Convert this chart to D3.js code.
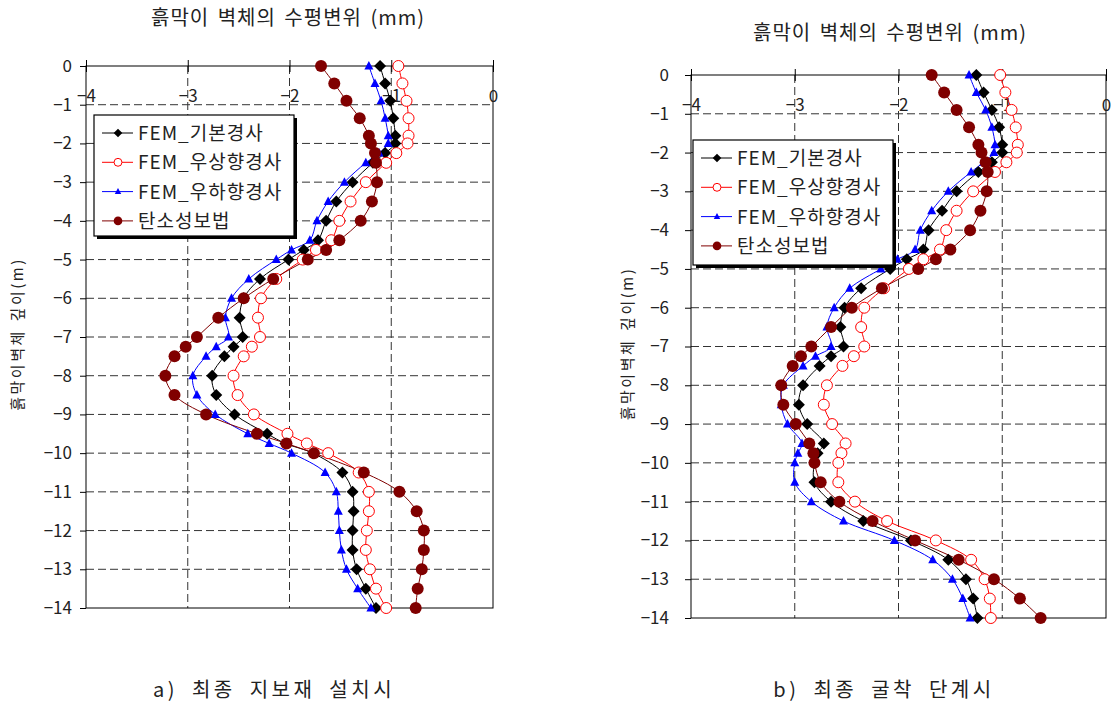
<!DOCTYPE html>
<html>
<head>
<meta charset="utf-8">
<script src="https://cdn.jsdelivr.net/npm/d3@7"></script>
<style>
  body { margin: 0; background: #fff; }
  svg text { font-family: "Noto Sans CJK KR", "DejaVu Sans", sans-serif; fill: #222; }
</style>
</head>
<body>
<div id="chart"></div>
<script>
/***** Data *****/
var depths = [0, -0.45, -0.9, -1.35, -1.8, -2, -2.25, -2.5, -3, -3.5, -4, -4.5, -4.75, -5, -5.5, -6, -6.5, -7,
  -7.25, -7.5, -8, -8.5, -9, -9.5, -9.75, -10, -10.5, -11, -11.5, -12, -12.5, -13, -13.5, -14];

var xTicks = [-4, -3, -2, -1, 0];
var yTicks = [0, -1, -2, -3, -4, -5, -6, -7, -8, -9, -10, -11, -12, -13, -14];

var seriesNames = ["FEM_기본경사", "FEM_우상향경사", "FEM_우하향경사", "탄소성보법"];

// a) 최종 지보재 설치시
var aBase = [-1.11, -1.06, -1.01, -0.98, -0.96, -0.96, -1.06, -1.18, -1.38, -1.54, -1.64, -1.72, -1.86, -2.01,
  -2.29, -2.45, -2.49, -2.46, -2.55, -2.64, -2.76, -2.72, -2.54, -2.22, -2.04, -1.77, -1.48, -1.38, -1.37,
  -1.38, -1.38, -1.34, -1.25, -1.15];
var aUp = [-0.93, -0.89, -0.85, -0.83, -0.83, -0.84, -0.95, -1.05, -1.25, -1.40, -1.51, -1.59, -1.74, -1.87,
  -2.13, -2.28, -2.31, -2.29, -2.37, -2.45, -2.55, -2.51, -2.35, -2.02, -1.83, -1.62, -1.32, -1.22, -1.22,
  -1.24, -1.25, -1.21, -1.15, -1.05];
var aDown = [-1.22, -1.16, -1.10, -1.06, -1.03, -1.03, -1.12, -1.25, -1.46, -1.62, -1.73, -1.80, -1.98, -2.13,
  -2.40, -2.57, -2.63, -2.60, -2.72, -2.82, -2.95, -2.91, -2.73, -2.41, -2.20, -1.98, -1.65, -1.54, -1.52,
  -1.51, -1.49, -1.44, -1.33, -1.20];
var aEp = [-1.69, -1.56, -1.44, -1.31, -1.22, -1.20, -1.16, -1.15, -1.14, -1.19, -1.30, -1.51, -1.64, -1.82,
  -2.16, -2.45, -2.70, -2.91, -3.02, -3.13, -3.22, -3.13, -2.82, -2.32, -2.03, -1.76, -1.27, -0.92, -0.75,
  -0.68, -0.68, -0.70, -0.74, -0.76];

// b) 최종 굴착 단계시
var bBase = [-1.25, -1.18, -1.10, -1.03, -1.00, -1.00, -1.10, -1.23, -1.44, -1.58, -1.71, -1.76, -1.92, -2.08,
  -2.36, -2.52, -2.56, -2.53, -2.65, -2.76, -2.92, -2.96, -2.88, -2.72, -2.78, -2.81, -2.81, -2.65, -2.34,
  -1.88, -1.52, -1.35, -1.28, -1.24];
var bUp = [-1.02, -0.97, -0.91, -0.87, -0.85, -0.86, -0.96, -1.07, -1.28, -1.44, -1.54, -1.60, -1.76, -1.90,
  -2.14, -2.33, -2.36, -2.33, -2.43, -2.54, -2.69, -2.72, -2.64, -2.51, -2.55, -2.58, -2.58, -2.42, -2.11,
  -1.64, -1.30, -1.17, -1.12, -1.11];
var bDown = [-1.32, -1.25, -1.16, -1.10, -1.07, -1.08, -1.18, -1.30, -1.52, -1.68, -1.79, -1.84, -2.01, -2.17,
  -2.47, -2.62, -2.69, -2.65, -2.80, -2.92, -3.11, -3.13, -3.07, -2.93, -2.97, -3.00, -3.00, -2.84, -2.53,
  -2.04, -1.67, -1.48, -1.38, -1.31];
var bEp = [-1.68, -1.56, -1.44, -1.32, -1.23, -1.20, -1.16, -1.14, -1.15, -1.21, -1.31, -1.50, -1.64, -1.81,
  -2.16, -2.45, -2.65, -2.84, -2.94, -3.02, -3.13, -3.11, -2.99, -2.86, -2.82, -2.81, -2.75, -2.57, -2.25,
  -1.84, -1.42, -1.08, -0.83, -0.63];

/***** Configuration *****/
var styles = [
  {color: "#000000", marker: "diamond"},
  {color: "#ff0000", marker: "open"},
  {color: "#0000ff", marker: "triangle"},
  {color: "#800000", marker: "dot"}
];

var svg = d3.select("#chart").append("svg")
  .attr("width", 1111)
  .attr("height", 702);

// k scales the marker (1 in the plot, smaller in the legend)
function drawMarker(g, type, color, k) {
  if (type === "diamond") {
    g.append("path").attr("d", "M0,-6L6,0L0,6L-6,0Z").attr("fill", color).attr("transform", "scale(" + k + ")");
  } else if (type === "open") {
    g.append("circle").attr("r", 5.5 * k).attr("fill", "#fff").attr("stroke", color).attr("stroke-width", 1);
  } else if (type === "triangle") {
    g.append("path").attr("d", "M0,-5L4.5,3.5L-4.5,3.5Z").attr("fill", color).attr("transform", "scale(" + k + ")");
  } else {
    g.append("circle").attr("r", 6 * k).attr("fill", color);
  }
}

function minusFmt(d) { return d === 0 ? "0" : "\u2212" + Math.abs(d); }

function drawPanel(cfg) {
  var x = d3.scaleLinear().domain([-4, 0]).range([cfg.left, cfg.left + cfg.width]);
  var y = d3.scaleLinear().domain([0, -14]).range([cfg.top, cfg.top + cfg.height]);
  var g = svg.append("g");

  // grid
  g.append("g").selectAll("line").data(yTicks.slice(1, -1)).join("line")
    .attr("x1", x(-4)).attr("x2", x(0))
    .attr("y1", function(d) { return y(d); }).attr("y2", function(d) { return y(d); })
    .attr("stroke", "#333").attr("stroke-dasharray", "8,4");
  g.append("g").selectAll("line").data(xTicks.slice(1, -1)).join("line")
    .attr("y1", y(0)).attr("y2", y(-14))
    .attr("x1", function(d) { return x(d); }).attr("x2", function(d) { return x(d); })
    .attr("stroke", "#333").attr("stroke-dasharray", "8,4");

  // frame
  g.append("rect")
    .attr("x", x(-4)).attr("y", y(0))
    .attr("width", cfg.width).attr("height", cfg.height)
    .attr("fill", "none").attr("stroke", "#000").attr("stroke-width", 1);

  // y axis
  var yAxis = d3.axisLeft(y).tickValues(yTicks).tickSize(6).tickPadding(cfg.yPad).tickFormat(minusFmt);
  g.append("g")
    .attr("transform", "translate(" + x(-4) + ",0)")
    .call(yAxis)
    .call(function(a) {
      a.select(".domain").remove();
      a.selectAll("text").attr("font-size", 17).attr("fill", "#222");
    });

  // x axis: ticks cross the top line, labels sit below it
  var xAxis = d3.axisBottom(x).tickValues(xTicks).tickSize(6).tickPadding(18).tickFormat(minusFmt);
  g.append("g")
    .attr("transform", "translate(0," + y(0) + ")")
    .call(xAxis)
    .call(function(a) {
      a.select(".domain").remove();
      a.selectAll("text").attr("font-size", 17).attr("fill", "#222");
      a.selectAll(".tick line").attr("y1", -6);
    });

  // series
  var line = d3.line()
    .x(function(d) { return x(d[0]); })
    .y(function(d) { return y(d[1]); })
    .curve(d3.curveCatmullRom.alpha(0.5));

  cfg.series.forEach(function(vals, i) {
    var pts = vals.map(function(v, j) { return [v, depths[j]]; });
    g.append("path").datum(pts)
      .attr("d", line)
      .attr("fill", "none")
      .attr("stroke", styles[i].color)
      .attr("stroke-width", 1);
  });
  cfg.series.forEach(function(vals, i) {
    vals.forEach(function(v, j) {
      var m = g.append("g").attr("transform", "translate(" + x(v) + "," + y(depths[j]) + ")");
      drawMarker(m, styles[i].marker, styles[i].color, 1);
    });
  });

  // legend
  var lg = g.append("g").attr("transform", "translate(" + cfg.legend[0] + "," + cfg.legend[1] + ")");
  lg.append("rect").attr("x", 3).attr("y", 3).attr("width", cfg.legend[2]).attr("height", cfg.legend[3]).attr("fill", "#000");
  lg.append("rect").attr("width", cfg.legend[2]).attr("height", cfg.legend[3])
    .attr("fill", "#fff").attr("stroke", "#000").attr("stroke-width", 1.2);
  seriesNames.forEach(function(name, i) {
    var row = lg.append("g").attr("transform", "translate(0," + (18 + i * 29.3) + ")");
    row.append("line").attr("x1", 8).attr("x2", 39).attr("stroke", styles[i].color);
    drawMarker(row.append("g").attr("transform", "translate(24,0)"), styles[i].marker, styles[i].color, 0.72);
    row.append("text").attr("x", 44).attr("y", 7).attr("font-size", 19)
      .attr("letter-spacing", 1).text(name);
  });

  // titles
  svg.append("text")
    .attr("x", cfg.titleX).attr("y", cfg.titleY)
    .attr("text-anchor", "middle").attr("font-size", 20)
    .attr("letter-spacing", 1).attr("word-spacing", 3)
    .text("흙막이 벽체의 수평변위 (mm)");
  svg.append("text")
    .attr("transform", "translate(" + cfg.yLabelX + "," + (cfg.top + cfg.height / 2 - 3) + ") rotate(-90)")
    .attr("text-anchor", "middle").attr("font-size", 15)
    .attr("letter-spacing", 2.5).attr("word-spacing", 2)
    .text("흙막이벽체 깊이(m)");
  svg.append("text")
    .attr("x", cfg.captionX).attr("y", 697)
    .attr("text-anchor", "middle").attr("font-size", 20)
    .attr("letter-spacing", 3.5).attr("word-spacing", 6)
    .text(cfg.caption);
}

drawPanel({
  left: 86, top: 66, width: 407, height: 542, yPad: 8,
  series: [aBase, aUp, aDown, aEp],
  legend: [94, 115, 200, 121],
  titleX: 288, titleY: 25, yLabelX: 23, captionX: 274,
  caption: "a) 최종 지보재 설치시"
});

drawPanel({
  left: 691, top: 75, width: 415, height: 543, yPad: 16,
  series: [bBase, bUp, bDown, bEp],
  legend: [693, 140, 200, 125],
  titleX: 890, titleY: 40, yLabelX: 633, captionX: 884,
  caption: "b) 최종 굴착 단계시"
});
</script>
</body>
</html>
